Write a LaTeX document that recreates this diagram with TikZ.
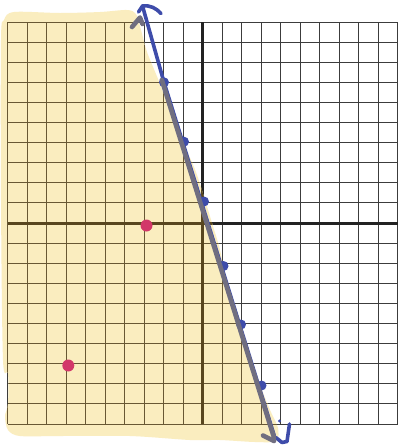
\documentclass[tikz,border=0pt]{standalone}
\definecolor{hlyellow}{RGB}{250,237,191}
\definecolor{gridgray}{RGB}{60,60,60}
\definecolor{gridbrown}{RGB}{104,88,52}
\definecolor{axisdark}{RGB}{34,34,34}
\definecolor{axisbrown}{RGB}{88,70,30}
\definecolor{redpt}{RGB}{210,55,105}
\definecolor{bluepen}{RGB}{62,76,170}
\definecolor{graypen}{RGB}{112,110,128}
\begin{document}
\begin{tikzpicture}[x=1pt,y=-1pt,
  gridline/.style={draw=#1, line width=1pt},
  axisline/.style={draw=#1, line width=3pt},
  hlpath/.style={insert path={plot[smooth cycle, tension=0.5] coordinates {
    (14,12) (60,13) (100,12) (127,10) (136,14) (141,30) (147,52) (160,84) (178,133)
    (191,160) (197,175) (205,200) (212,223) (220,250) (228,290) (247,350) (262,390)
    (270,410) (278,428) (276,441) (255,442) (220,440) (190,440) (130,436) (60,436)
    (20,436) (8,430) (5,416) (8,404) (8,373) (3,360) (1,200) (1,40) (4,20)}}},
  reddot/.style={circle, fill=redpt, inner sep=0pt, minimum size=12pt},
  bluedot/.style={circle, fill=bluepen, inner sep=0pt, minimum size=10pt},
  bluestroke/.style={draw=bluepen, line width=3.6pt, line cap=round, line join=round},
  graystroke/.style={draw=graypen, line width=4.6pt, line cap=round, line join=round}]
\useasboundingbox (0,0) rectangle (399,445);
\fill[white] (0,0) rectangle (399,445);
% grid outside highlight
\begin{scope}[shift={(202.5pt,-223pt)}, x=19.5pt, y=20.1pt]
  \foreach \i in {-10,...,10} {
    \draw[gridline=gridgray] (\i,-10) -- (\i,10);
    \draw[gridline=gridgray] (-10,\i) -- (10,\i);
  }
  \draw[axisline=axisdark] (-10,0) -- (10,0);
  \draw[axisline=axisdark] (0,-10) -- (0,10);
\end{scope}
% highlighter region
\fill[hlyellow, hlpath];
\begin{scope}
  \clip[hlpath];
  \begin{scope}[shift={(202.5pt,-223pt)}, x=19.5pt, y=20.1pt]
    \foreach \i in {-10,...,10} {
      \draw[gridline=gridbrown] (\i,-10) -- (\i,10);
      \draw[gridline=gridbrown] (-10,\i) -- (10,\i);
    }
    \draw[axisline=axisbrown] (-10,0) -- (10,0);
    \draw[axisline=axisbrown] (0,-10) -- (0,10);
  \end{scope}
\end{scope}
% red points
\node[reddot] (r1) at (146.5,225.5) {};
\node[reddot] (r2) at (68.3,365.5) {};
% blue points on the line
\node[bluedot] (b1) at (164,82.3) {};
\node[bluedot] (b2) at (184,141.7) {};
\node[bluedot] (b3) at (204,201.5) {};
\node[bluedot] (b4) at (223.5,266) {};
\node[bluedot] (b5) at (241,324.5) {};
\node[bluedot] (b6) at (261.5,385.5) {};
% gray line end points
\coordinate (gs) at (161.8,80);
\coordinate (ge) at (274,437.5);
% blue line with hand-drawn arrowheads
\coordinate (tp) at (142.5,6);
\coordinate (tl) at (138.5,12);
\coordinate (tr) at (161,13.5);
\coordinate (bt) at (276.5,438);
\coordinate (bm) at (282,442.5);
\coordinate (bn) at (287,441.5);
\coordinate (br) at (289.5,424);
\draw[bluestroke] (tl) -- (tp) .. controls (150,5) and (156,8) .. (tr);
\draw[bluestroke] (tp) -- (b1.center) -- ([xshift=0.8pt]ge) -- (bt) -- (bm) -- (bn) -- (br);
\fill[bluepen] (279.5,421) circle (1.6pt);
% gray line on top
\coordinate (ga) at (263,435.5);
\coordinate (gb) at (274,441);
\coordinate (gt1) at (132,27);
\coordinate (gt2) at (140,17.5);
\coordinate (gt3) at (142.5,24);
\draw[graystroke] (gs) -- (ge);
\draw[graystroke] (ga) -- (gb);
\draw[graystroke] (gt1) -- (gt2) -- (gt3);
\end{tikzpicture}
\end{document}
